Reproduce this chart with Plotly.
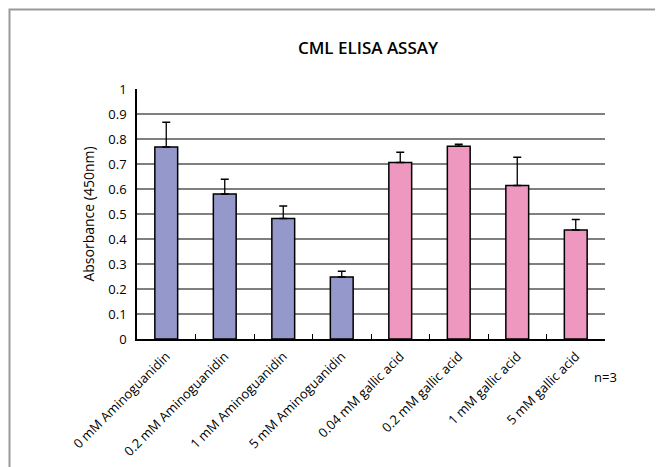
import plotly.graph_objects as go

categories = ["0 mM Aminoguanidin", "0.2 mM Aminoguanidin", "1 mM Aminoguanidin",
              "5 mM Aminoguanidin", "0.04 mM gallic acid", "0.2 mM gallic acid",
              "1 mM gallic acid", "5 mM gallic acid"]
values = [0.768, 0.580, 0.482, 0.248, 0.706, 0.771, 0.614, 0.436]
errors = [0.099, 0.059, 0.050, 0.023, 0.041, 0.008, 0.113, 0.042]
groups = ["Aminoguanidin"] * 4 + ["gallic acid"] * 4
y_ticks = [0, 0.1, 0.2, 0.3, 0.4, 0.5, 0.6, 0.7, 0.8, 0.9, 1]
y_tick_labels = ["0", "0.1", "0.2", "0.3", "0.4", "0.5", "0.6", "0.7", "0.8", "0.9", "1"]

group_colors = {"Aminoguanidin": "#9598CA", "gallic acid": "#EE97BF"}

# page has an 8px body margin, so the figure is drawn from (8, 8)
OFF = 8
W, H = 663 - OFF, 467 - OFF
ml, mt = 137 - OFF, 89 - OFF
mr = (OFF + W) - 605
mb = (OFF + H) - 339
pw, ph = W - ml - mr, H - mt - mb

FONT = "Open Sans"

fig = go.Figure()
fig.add_trace(go.Bar(
    x=categories, y=values,
    width=0.39,
    marker=dict(color=[group_colors[g] for g in groups],
                line=dict(color="black", width=1.5)),
    error_y=dict(type="data", symmetric=False, array=errors,
                 arrayminus=[0] * len(errors),
                 color="black", thickness=1.3, width=4),
))

def px_x(p):
    return (p - OFF - ml) / pw

def px_y(p):
    return 1 - (p - OFF - mt) / ph

fig.add_shape(type="rect", xref="paper", yref="paper",
              x0=px_x(9.5), x1=px_x(700), y0=px_y(9.5), y1=px_y(500),
              line=dict(color="#9a9a9a", width=2), layer="below")

fig.add_annotation(text="n=3", xref="paper", yref="paper",
                   x=px_x(605), y=px_y(377), xanchor="center", yanchor="middle",
                   showarrow=False,
                   font=dict(family=FONT, size=13, color="black"))

fig.update_layout(
    width=W, height=H,
    margin=dict(l=ml, r=mr, t=mt, b=mb, autoexpand=False),
    paper_bgcolor="white", plot_bgcolor="white",
    showlegend=False,
    title=dict(text="CML ELISA ASSAY", xref="paper", x=px_x(368), xanchor="center",
               yref="container", y=1 - (48 - OFF) / H, yanchor="middle",
               font=dict(family=FONT, size=17, color="black", weight=600)),
    font=dict(family=FONT, size=12, color="black"),
)
fig.update_xaxes(
    type="category", showline=True, linecolor="black", linewidth=1.5,
    ticks="inside", tickson="boundaries", ticklen=5, tickcolor="black", tickwidth=1,
    tickangle=-45, tickfont=dict(family=FONT, size=13, color="black"),
    ticklabelstandoff=3,
    showgrid=False, mirror=False,
)
fig.update_yaxes(
    range=[0, 1], tickvals=y_ticks, ticktext=y_tick_labels,
    showline=True, linecolor="black", linewidth=1.5,
    showgrid=True, gridcolor="#7f7f7f", gridwidth=1.5,
    ticks="", ticklabelstandoff=6,
    tickfont=dict(family=FONT, size=13, color="black"),
    title=dict(text="Absorbance (450nm)", font=dict(family=FONT, size=14, color="black"),
               standoff=10),
    zeroline=False,
)

fig.write_html("out.html")
